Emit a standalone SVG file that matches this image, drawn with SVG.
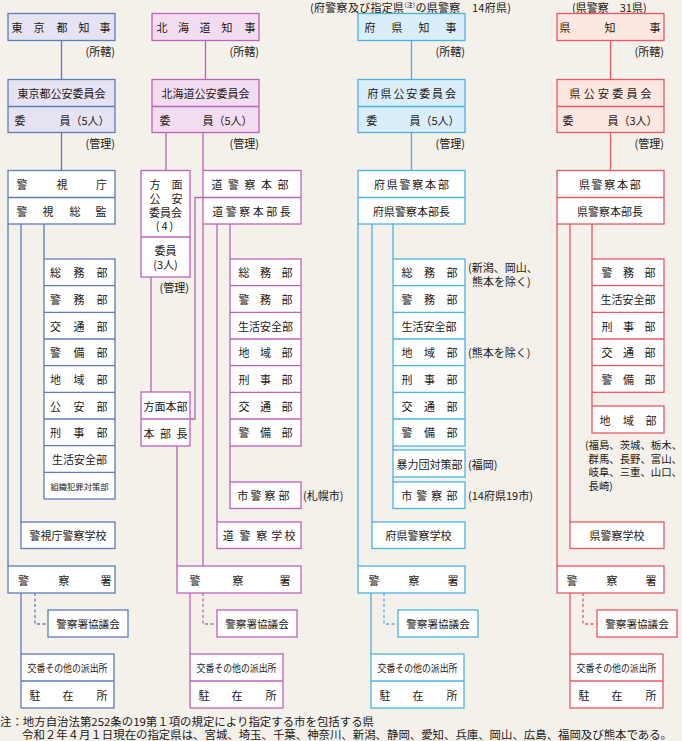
<svg xmlns="http://www.w3.org/2000/svg" width="682" height="741" viewBox="0 0 682 741">
<style>
.t{font-family:"Noto Sans CJK JP","Noto Sans CJK SC",sans-serif;font-size:11px;fill:#231815;dominant-baseline:central}
.m{text-anchor:middle}
.e{text-anchor:end}
.s{font-size:10px}
rect{stroke-width:1.3}
.btk{fill:#fff;stroke:#5d7cbb}.htk{fill:#e5e3f1;stroke:#5d7cbb}
.bhk{fill:#fff;stroke:#bd62bb}.hhk{fill:#f2ddf0;stroke:#bd62bb}
.bpf{fill:#fff;stroke:#4cb2e5}.hpf{fill:#d9eef9;stroke:#4cb2e5}
.bkn{fill:#fff;stroke:#ea5766}.hkn{fill:#fde7e1;stroke:#ea5766}
path{fill:none;stroke-width:1.3}
.ltk{stroke:#5d7cbb}.lhk{stroke:#bd62bb}.lpf{stroke:#4cb2e5}.lkn{stroke:#ea5766}
.d{stroke-dasharray:3 2.5}
</style>
<rect x="0" y="0" width="682" height="741" fill="#f4f0ea" style="stroke:none"/>

<g id="connectors">
<path class="ltk" d="M61.5 40.5V79.5M61.5 132.5V170.5M8 224V566M21 224V522M44 224V259M21 593V654"/>
<path class="ltk d" d="M35 593V624H48"/>
<path class="lhk" d="M205.5 40.5V79.5M166 132.5V170.5M203 132.5V170.5M151 277V392M203 197.5H195V419H190M177 446V566M203 224V566M217 224V522M230 224V259M230 446V482M190 593V654"/>
<path class="lhk d" d="M203 593V624H217"/>
<path class="lpf" d="M411.5 40.5V79.5M411.5 132.5V170.5M358 224V566M372 224V522M393 224V259M393 446V450M393 477V482M371 593V654"/>
<path class="lpf d" d="M384 593V624H398"/>
<path class="lkn" d="M610.5 40.5V79.5M610.5 132.5V170.5M557 224V566M570 224V522M592 224V259M592 392V406M570 593V654"/>
<path class="lkn d" d="M583 593V624H597"/>
</g>

<!-- Tokyo -->
<g id="tokyo-governor"><rect class="htk" x="8" y="13.5" width="107" height="27"/><text class="t m" x="17 39 62 84 105" y="27">東京都知事</text></g>
<text class="t e" x="115" y="51">(所轄)</text>
<g id="tokyo-commission"><rect class="htk" x="8" y="79.5" width="107" height="53"/><path class="ltk" d="M8 106.5H115"/><text class="t m" x="61.5" y="93">東京都公安委員会</text><text class="t" y="119.5"><tspan x="14.5">委</tspan><tspan x="59.5">員（5人）</tspan></text></g>
<text class="t e" x="115" y="142.5">(管理)</text>
<g id="tokyo-mpd"><rect class="btk" x="8" y="170.5" width="107" height="53.5"/><path class="ltk" d="M8 197.5H115"/><text class="t m" x="22 62 101.5" y="184">警視庁</text><text class="t m" x="22 48 75 101" y="211">警視総監</text></g>
<g id="tokyo-depts"><rect class="btk" x="44" y="259" width="71" height="240"/><path class="ltk" d="M44 285.7H115M44 312.3H115M44 339H115M44 365.7H115M44 392.3H115M44 419H115M44 445.7H115M44 472.3H115"/>
<text class="t m" x="55.5 79 102" y="272.3">総務部</text>
<text class="t m" x="55.5 79 102" y="299">警務部</text>
<text class="t m" x="55.5 79 102" y="325.7">交通部</text>
<text class="t m" x="55.5 79 102" y="352.3">警備部</text>
<text class="t m" x="55.5 79 102" y="379">地域部</text>
<text class="t m" x="55.5 79 102" y="405.7">公安部</text>
<text class="t m" x="55.5 79 102" y="432.3">刑事部</text>
<text class="t m" x="79.5" y="459">生活安全部</text>
<text class="t m" x="79.5" y="485.7" style="font-size:8.3px">組織犯罪対策部</text></g>
<g id="tokyo-school"><rect class="btk" x="21" y="522" width="94" height="26.5"/><text class="t m" x="68" y="535">警視庁警察学校</text></g>
<g id="tokyo-station"><rect class="btk" x="8" y="566" width="107" height="27"/><text class="t m" x="23.5 64 106" y="579.5">警察署</text></g>
<g id="tokyo-council"><rect class="btk" x="48" y="610" width="80" height="27"/><text class="t m" x="88" y="623.5" style="font-size:10.6px">警察署協議会</text></g>
<g id="tokyo-koban"><rect class="btk" x="21" y="654" width="93" height="54"/><path class="ltk" d="M21 681H114"/><text class="t m s" x="67.5" y="667.5" textLength="80" lengthAdjust="spacingAndGlyphs">交番その他の派出所</text><text class="t m" x="35 68 102" y="694.5">駐在所</text></g>

<!-- Hokkaido -->
<g id="hokkaido-governor"><rect class="hhk" x="152" y="13.5" width="107" height="27"/><text class="t m" x="162 183.5 205 227 250" y="27">北海道知事</text></g>
<text class="t e" x="259" y="51">(所轄)</text>
<g id="hokkaido-commission"><rect class="hhk" x="152" y="79.5" width="107" height="53"/><path class="lhk" d="M152 106.5H259"/><text class="t m" x="205.5" y="93">北海道公安委員会</text><text class="t" y="119.5"><tspan x="159.5">委</tspan><tspan x="202.5">員（5人）</tspan></text></g>
<text class="t e" x="259" y="142.5">(管理)</text>
<g id="hokkaido-area-commission"><rect class="bhk" x="141" y="170.5" width="49" height="106.5"/><path class="lhk" d="M141 237H190"/>
<text class="t m"><tspan x="155 177" y="184">方面</tspan><tspan x="155 177" y="198">公安</tspan><tspan x="165.5" y="212">委員会</tspan><tspan x="165.5" y="225" style="letter-spacing:2px">(4)</tspan></text>
<text class="t m"><tspan x="165.5" y="250">委員</tspan><tspan x="165.5" y="263.5">(3人)</tspan></text></g>
<text class="t e" x="189" y="287">(管理)</text>
<g id="hokkaido-hq"><rect class="bhk" x="203" y="170.5" width="98" height="53.5"/><path class="lhk" d="M203 197.5H301"/><text class="t m" x="217 233.5 250 266.5 283" y="184">道警察本部</text><text class="t m" x="217.8 231.3 244.8 258.3 271.8 285.3" y="211">道警察本部長</text></g>
<g id="hokkaido-area-hq"><rect class="bhk" x="141" y="392" width="49" height="54"/><path class="lhk" d="M141 419H190"/><text class="t m" x="165.5" y="405.5">方面本部</text><text class="t m" x="149 165.5 182" y="432.5">本部長</text></g>
<g id="hokkaido-depts"><rect class="bhk" x="230" y="259" width="71" height="187"/><path class="lhk" d="M230 285.7H301M230 312.3H301M230 339H301M230 365.7H301M230 392.3H301M230 419H301"/>
<text class="t m" x="244 265.5 287" y="272.3">総務部</text>
<text class="t m" x="244 265.5 287" y="299">警務部</text>
<text class="t m" x="265.5" y="325.7">生活安全部</text>
<text class="t m" x="244 265.5 287" y="352.3">地域部</text>
<text class="t m" x="244 265.5 287" y="379">刑事部</text>
<text class="t m" x="244 265.5 287" y="405.7">交通部</text>
<text class="t m" x="244 265.5 287" y="432.3">警備部</text></g>
<g id="hokkaido-city"><rect class="bhk" x="230" y="482" width="71" height="26.5"/><text class="t m" x="242.7 256 270 284" y="495">市警察部</text></g>
<text class="t" x="303" y="495">(札幌市)</text>
<g id="hokkaido-school"><rect class="bhk" x="217" y="522" width="84" height="26.5"/><text class="t m" x="228.3 245 261.7 276.7 290" y="535">道警察学校</text></g>
<g id="hokkaido-station"><rect class="bhk" x="177" y="566" width="124" height="27"/><text class="t m" x="195 238 285" y="579.5">警察署</text></g>
<g id="hokkaido-council"><rect class="bhk" x="217" y="610" width="80" height="27"/><text class="t m" x="257" y="623.5" style="font-size:10.6px">警察署協議会</text></g>
<g id="hokkaido-koban"><rect class="bhk" x="190" y="654" width="93" height="54"/><path class="lhk" d="M190 681H283"/><text class="t m s" x="236.5" y="667.5" textLength="80" lengthAdjust="spacingAndGlyphs">交番その他の派出所</text><text class="t m" x="204 237 271" y="694.5">駐在所</text></g>

<!-- Prefectures -->
<text class="t" x="310" y="6.5" style="letter-spacing:0.3px">(府警察及び指定県<tspan style="font-size:6px" dy="-3">(注)</tspan><tspan dy="3">の県警察　14府県)</tspan></text>
<g id="pref-governor"><rect class="hpf" x="358" y="13.5" width="107" height="27"/><text class="t m" x="370 397 424 451" y="27">府県知事</text></g>
<text class="t e" x="465" y="51">(所轄)</text>
<g id="pref-commission"><rect class="hpf" x="358" y="79.5" width="107" height="53"/><path class="lpf" d="M358 106.5H465"/><text class="t m" x="373.1 386 398.9 411.8 424.7 437.6 450.5" y="93">府県公安委員会</text><text class="t" y="119.5"><tspan x="366.2">委</tspan><tspan x="409.5">員（5人）</tspan></text></g>
<text class="t e" x="465" y="142.5">(管理)</text>
<g id="pref-hq"><rect class="bpf" x="358" y="170.5" width="107" height="53.5"/><path class="lpf" d="M358 197.5H465"/><text class="t m" x="379.4 392.2 405 417.8 430.6 443.4" y="184">府県警察本部</text><text class="t m" x="411.5" y="211">府県警察本部長</text></g>
<g id="pref-depts"><rect class="bpf" x="393" y="259" width="72" height="187"/><path class="lpf" d="M393 285.7H465M393 312.3H465M393 339H465M393 365.7H465M393 392.3H465M393 419H465"/>
<text class="t m" x="407 429.5 452" y="272.3">総務部</text>
<text class="t m" x="407 429.5 452" y="299">警務部</text>
<text class="t m" x="429" y="325.7">生活安全部</text>
<text class="t m" x="407 429.5 452" y="352.3">地域部</text>
<text class="t m" x="407 429.5 452" y="379">刑事部</text>
<text class="t m" x="407 429.5 452" y="405.7">交通部</text>
<text class="t m" x="407 429.5 452" y="432.3">警備部</text></g>
<text class="t"><tspan x="468" y="266.5">(新潟、岡山、</tspan><tspan x="472" y="280.5">熊本を除く)</tspan></text>
<text class="t" x="468" y="352">(熊本を除く)</text>
<g id="pref-boryokudan"><rect class="bpf" x="393" y="450" width="72" height="27"/><text class="t m" x="429.5" y="463.5">暴力団対策部</text></g>
<text class="t" x="468" y="463.5">(福岡)</text>
<g id="pref-city"><rect class="bpf" x="393" y="482" width="72" height="26.5"/><text class="t m" x="406.7 421.7 436.7 452" y="495">市警察部</text></g>
<text class="t" x="468" y="495">(14府県19市)</text>
<g id="pref-school"><rect class="bpf" x="372" y="522" width="93" height="26.5"/><text class="t m" x="418.5" y="535">府県警察学校</text></g>
<g id="pref-station"><rect class="bpf" x="358" y="566" width="107" height="27"/><text class="t m" x="374 414 453" y="579.5">警察署</text></g>
<g id="pref-council"><rect class="bpf" x="398" y="610" width="80" height="27"/><text class="t m" x="438" y="623.5" style="font-size:10.6px">警察署協議会</text></g>
<g id="pref-koban"><rect class="bpf" x="371" y="654" width="93" height="54"/><path class="lpf" d="M371 681H464"/><text class="t m s" x="417.5" y="667.5" textLength="80" lengthAdjust="spacingAndGlyphs">交番その他の派出所</text><text class="t m" x="385 418 452" y="694.5">駐在所</text></g>

<!-- Prefectures (ken) -->
<text class="t" x="572" y="6.5">(県警察　31県)</text>
<g id="ken-governor"><rect class="hkn" x="557" y="13.5" width="107" height="27"/><text class="t m" x="565 610 655" y="27">県知事</text></g>
<text class="t e" x="664" y="51">(所轄)</text>
<g id="ken-commission"><rect class="hkn" x="557" y="79.5" width="107" height="53"/><path class="lkn" d="M557 106.5H664"/><text class="t m" x="575.1 589.3 603.5 617.7 631.9 646.1" y="93">県公安委員会</text><text class="t" y="119.5"><tspan x="562.5">委</tspan><tspan x="607.5">員（3人）</tspan></text></g>
<text class="t e" x="664" y="142.5">(管理)</text>
<g id="ken-hq"><rect class="bkn" x="557" y="170.5" width="107" height="53.5"/><path class="lkn" d="M557 197.5H664"/><text class="t m" x="584.4 597.1 609.8 622.6 635.3" y="184">県警察本部</text><text class="t m" x="610" y="211">県警察本部長</text></g>
<g id="ken-depts"><rect class="bkn" x="592" y="259" width="72" height="133.3"/><path class="lkn" d="M592 285.7H664M592 312.3H664M592 339H664M592 365.7H664"/>
<text class="t m" x="607 628.5 650" y="272.3">警務部</text>
<text class="t m" x="628" y="299">生活安全部</text>
<text class="t m" x="607 628.5 650" y="325.7">刑事部</text>
<text class="t m" x="607 628.5 650" y="352.3">交通部</text>
<text class="t m" x="607 628.5 650" y="379">警備部</text></g>
<g id="ken-chiiki"><rect class="bkn" x="592" y="406" width="72" height="27"/><text class="t m" x="605 628.5 651" y="419.5">地域部</text></g>
<text class="t" style="font-size:10.4px"><tspan x="585" y="444">(福島、茨城、栃木、</tspan><tspan x="588.5" y="457.5">群馬、長野、富山、</tspan><tspan x="588.5" y="471">岐阜、三重、山口、</tspan><tspan x="588.5" y="484.5">長崎)</tspan></text>
<g id="ken-school"><rect class="bkn" x="570" y="522" width="94" height="26.5"/><text class="t m" x="617" y="535">県警察学校</text></g>
<g id="ken-station"><rect class="bkn" x="557" y="566" width="107" height="27"/><text class="t m" x="572 612 651" y="579.5">警察署</text></g>
<g id="ken-council"><rect class="bkn" x="597" y="610" width="80" height="27"/><text class="t m" x="637" y="623.5" style="font-size:10.6px">警察署協議会</text></g>
<g id="ken-koban"><rect class="bkn" x="570" y="654" width="93" height="54"/><path class="lkn" d="M570 681H663"/><text class="t m s" x="616.5" y="667.5" textLength="80" lengthAdjust="spacingAndGlyphs">交番その他の派出所</text><text class="t m" x="584 617 651" y="694.5">駐在所</text></g>

<text class="t"><tspan x="0" y="721" textLength="374" lengthAdjust="spacingAndGlyphs">注：地方自治法第252条の19第１項の規定により指定する市を包括する県</tspan><tspan x="22" y="734" textLength="650" lengthAdjust="spacingAndGlyphs">令和２年４月１日現在の指定県は、宮城、埼玉、千葉、神奈川、新潟、静岡、愛知、兵庫、岡山、広島、福岡及び熊本である。</tspan></text>
</svg>
